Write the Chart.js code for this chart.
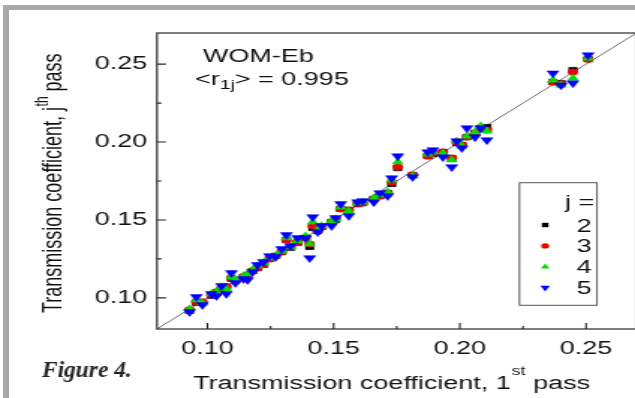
<!DOCTYPE html>
<html><head><meta charset="utf-8">
<script src="https://cdn.jsdelivr.net/npm/chart.js@4.4.1/dist/chart.umd.min.js"></script>
<style>
html,body{margin:0;padding:0;background:#fff;overflow:hidden;width:635px;height:398px;}
#frame{position:absolute;left:3px;top:5px;width:700px;height:420px;border-left:6px solid #a9a9a9;border-top:5px solid #a9a9a9;box-sizing:border-box;}
#c{position:absolute;left:0;top:0;}
</style></head><body>
<div id="frame"></div>
<canvas id="c" width="440" height="398" style="width:659px;height:398px;"></canvas>
<script>
// Transmission coefficient, 1st pass (x)
const firstPass = [0.0929,0.0956,0.0980,0.1016,0.1036,0.1056,0.1075,0.1095,0.1111,0.1143,0.1159,0.1179,0.1198,0.1222,0.1246,0.1270,0.1294,0.1313,0.1329,0.1357,0.1389,0.1405,0.1417,0.1437,0.1452,0.1492,0.1508,0.1528,0.1560,0.1595,0.1615,0.1659,0.1683,0.1714,0.1730,0.1754,0.1813,0.1873,0.1893,0.1933,0.1968,0.1988,0.2008,0.2028,0.2060,0.2083,0.2107,0.2369,0.2401,0.2448,0.2508];
// Transmission coefficient, j-th pass (y)
const pass2 = [0.0917,0.0968,0.0968,0.1013,0.1032,0.1058,0.1071,0.1122,0.1109,0.1135,0.1147,0.1173,0.1192,0.1212,0.1250,0.1269,0.1295,0.1372,0.1321,0.1353,0.1385,0.1327,0.1449,0.1429,0.1455,0.1487,0.1500,0.1571,0.1564,0.1603,0.1609,0.1635,0.1654,0.1673,0.1731,0.1833,0.1788,0.1910,0.1923,0.1936,0.1897,0.1994,0.1981,0.2032,0.2058,0.2090,0.2096,0.2385,0.2378,0.2462,0.2532];
const pass3 = [0.0923,0.0974,0.0974,0.1019,0.1038,0.1064,0.1071,0.1128,0.1109,0.1135,0.1147,0.1173,0.1192,0.1218,0.1250,0.1269,0.1295,0.1372,0.1327,0.1359,0.1385,0.1346,0.1462,0.1429,0.1455,0.1487,0.1506,0.1571,0.1564,0.1603,0.1609,0.1635,0.1654,0.1673,0.1744,0.1840,0.1788,0.1910,0.1929,0.1936,0.1897,0.2000,0.1981,0.2032,0.2058,0.2090,0.2077,0.2385,0.2372,0.2449,0.2532];
const pass4 = [0.0929,0.0987,0.0968,0.1026,0.1038,0.1071,0.1058,0.1135,0.1115,0.1141,0.1154,0.1179,0.1205,0.1224,0.1256,0.1269,0.1301,0.1385,0.1327,0.1365,0.1397,0.1346,0.1487,0.1436,0.1462,0.1494,0.1506,0.1583,0.1558,0.1609,0.1615,0.1641,0.1660,0.1679,0.1756,0.1872,0.1782,0.1923,0.1936,0.1929,0.1885,0.2006,0.1974,0.2038,0.2064,0.2103,0.2071,0.2397,0.2365,0.2410,0.2538];
const pass5 = [0.0910,0.1006,0.0955,0.1026,0.1013,0.1077,0.1026,0.1160,0.1096,0.1122,0.1115,0.1167,0.1212,0.1231,0.1269,0.1263,0.1314,0.1404,0.1333,0.1385,0.1385,0.1256,0.1519,0.1423,0.1462,0.1462,0.1513,0.1603,0.1526,0.1615,0.1622,0.1615,0.1673,0.1654,0.1769,0.1910,0.1776,0.1936,0.1949,0.1904,0.1840,0.2006,0.1962,0.2090,0.2032,0.2090,0.2013,0.2442,0.2365,0.2378,0.2558];
const seriesNames = ['2','3','4','5'];
const axisRange = [0.08, 0.27];
const xTickValues = [0.10,0.15,0.20,0.25];
const yTickValues = [0.10,0.15,0.20,0.25];
const xMinorValues = [0.125,0.175,0.225];
const yMinorValues = [0.125,0.175,0.225];
const legendTitle = 'j =';
const sampleName = 'WOM-Eb';
const corrValue = '0.995';

const FONT = '"Liberation Sans", Arial, sans-serif';
Chart.defaults.font.family = FONT;

function pts(ys){ return firstPass.map((x,i)=>({x:x,y:ys[i]})); }

const styles = [
  {color:'#000000', pointStyle:'rect', radius:3.9, rotation:0},
  {color:'#ee0000', pointStyle:'circle', radius:3.3, rotation:0},
  {color:'#00e000', pointStyle:'triangle', radius:4.2, rotation:0},
  {color:'#0000ff', pointStyle:'triangle', radius:4.6, rotation:180}
];
const allPasses = [pass2, pass3, pass4, pass5];

const datasets = [{
  type:'line', label:'y = x',
  data: axisRange.map(v=>({x:v,y:v})),
  borderColor:'#6a6a6a', borderWidth:1, pointRadius:0, fill:false, order:10
}];
allPasses.forEach((p,i)=>{
  datasets.push({
    label: seriesNames[i], data: pts(p),
    backgroundColor: styles[i].color, borderColor: styles[i].color, borderWidth: 0.5,
    pointStyle: styles[i].pointStyle, pointRadius: styles[i].radius, pointRotation: styles[i].rotation,
    pointHoverRadius: styles[i].radius, order: 5 - i
  });
});

const decor = {
  id:'decor',
  afterDatasetsDraw(chart){
    const {ctx, chartArea:a, scales:{x, y}} = chart;
    ctx.save();
    ctx.strokeStyle = '#3a3a3a'; ctx.lineWidth = 1.3;
    ctx.strokeRect(a.left, a.top, a.right - a.left, a.bottom - a.top);
    ctx.strokeStyle = '#222'; ctx.lineWidth = 1.1;
    ctx.beginPath();
    xTickValues.forEach(v=>{const p=x.getPixelForValue(v); ctx.moveTo(p,a.bottom); ctx.lineTo(p,a.bottom-6);});
    xMinorValues.forEach(v=>{const p=x.getPixelForValue(v); ctx.moveTo(p,a.bottom); ctx.lineTo(p,a.bottom-3);});
    yTickValues.forEach(v=>{const p=y.getPixelForValue(v); ctx.moveTo(a.left,p); ctx.lineTo(a.left+6,p);});
    yMinorValues.forEach(v=>{const p=y.getPixelForValue(v); ctx.moveTo(a.left,p); ctx.lineTo(a.left+3,p);});
    ctx.stroke();

    ctx.fillStyle = '#111';
    ctx.textAlign = 'left'; ctx.textBaseline = 'alphabetic';
    ctx.font = '18px ' + FONT;
    ctx.fillText(sampleName, 135.5, 61.5);
    let cx = 130.2;
    ctx.fillText('<r', cx, 85); cx += ctx.measureText('<r').width;
    ctx.font = '13px ' + FONT;
    ctx.fillText('1j', cx, 88.5); cx += ctx.measureText('1j').width;
    ctx.font = '18px ' + FONT;
    ctx.fillText('> = ' + corrValue, cx, 85);

    let tx = 129;
    const xa = 'Transmission coefficient, 1';
    ctx.font = '18px ' + FONT;
    ctx.fillText(xa, tx, 389); tx += ctx.measureText(xa).width;
    ctx.font = '12px ' + FONT;
    ctx.fillText('st', tx + 0.5, 375); tx += ctx.measureText('st').width + 0.5;
    ctx.font = '18px ' + FONT;
    ctx.fillText(' pass', tx, 389);

    ctx.save();
    ctx.translate(41.4, 313);
    ctx.rotate(-Math.PI/2);
    let ty = 0;
    const ya = 'Transmission coefficient, j';
    ctx.font = '18px ' + FONT;
    ctx.fillText(ya, ty, 0); ty += ctx.measureText(ya).width;
    ctx.font = '12px ' + FONT;
    ctx.fillText('th', ty + 0.5, -9); ty += ctx.measureText('th').width + 0.5;
    ctx.font = '18px ' + FONT;
    ctx.fillText(' pass', ty, 0);
    ctx.restore();

    const lx = 346.8, ly = 182.7, lw = 51.8, lh = 122.6;
    ctx.fillStyle = '#fff';
    ctx.fillRect(lx, ly, lw, lh);
    ctx.strokeStyle = '#555'; ctx.lineWidth = 1;
    ctx.strokeRect(lx, ly, lw, lh);
    ctx.fillStyle = '#111';
    ctx.font = '18px ' + FONT;
    ctx.fillText(legendTitle, 377.3, 208);
    seriesNames.forEach((name,i)=>{
      const rowY = 225 + i*20.9;
      const st = styles[i];
      ctx.fillStyle = st.color; ctx.strokeStyle = st.color;
      Chart.helpers.drawPoint(ctx, {pointStyle: st.pointStyle, radius: st.radius*0.8, rotation: st.rotation, borderWidth: 0}, 364, rowY);
      ctx.fillStyle = '#111';
      ctx.font = '18px ' + FONT;
      ctx.fillText(name, 385, rowY + 6.5);
    });

    ctx.save();
    ctx.fillStyle = '#222';
    ctx.font = 'bold italic 23px "Liberation Serif", "Times New Roman", serif';
    ctx.translate(28, 377);
    ctx.scale(0.68, 1);
    ctx.fillText('Figure 4.', 0, 0);
    ctx.restore();

    ctx.restore();
  }
};

new Chart(document.getElementById('c'), {
  type:'scatter',
  data:{datasets},
  options:{
    responsive:false, animation:false, devicePixelRatio:1,
    layout:{padding:{left:0, right:15, top:33, bottom:0}},
    plugins:{legend:{display:false}, tooltip:{enabled:false}},
    scales:{
      x:{
        type:'linear', min:axisRange[0], max:axisRange[1],
        afterBuildTicks: s=>{ s.ticks = xTickValues.map(v=>({value:v})); },
        afterFit: s=>{ s.height = 69; },
        grid:{display:true, drawOnChartArea:false, drawTicks:false},
        border:{display:false},
        ticks:{padding:9, color:'#111', font:{size:18}, maxRotation:0, autoSkip:false, callback:v=>v.toFixed(2)}
      },
      y:{
        type:'linear', min:axisRange[0], max:axisRange[1],
        afterBuildTicks: s=>{ s.ticks = yTickValues.map(v=>({value:v})); },
        afterFit: s=>{ s.width = 104.8; },
        grid:{display:true, drawOnChartArea:false, drawTicks:false},
        border:{display:false},
        ticks:{padding:6.6, color:'#111', font:{size:18}, autoSkip:false, callback:v=>v.toFixed(2)}
      }
    }
  },
  plugins:[decor]
});
</script>
</body></html>
